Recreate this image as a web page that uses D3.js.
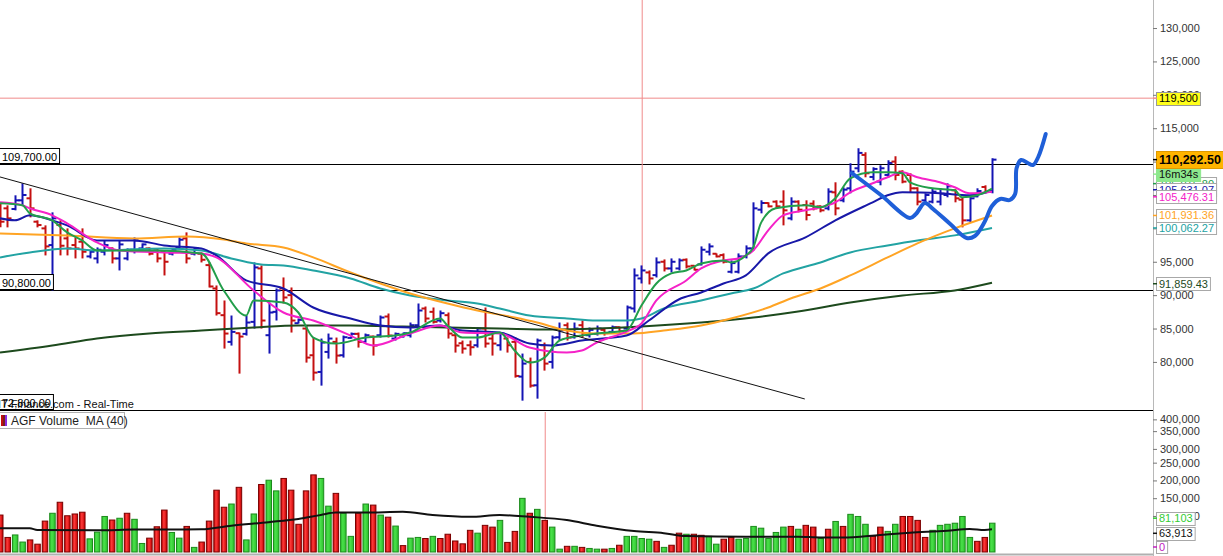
<!DOCTYPE html>
<html><head><meta charset="utf-8">
<script src="https://cdn.jsdelivr.net/npm/d3@7"></script>
<style>
html,body{margin:0;padding:0;background:#fff;}
svg{display:block;font-family:"Liberation Sans",Arial,sans-serif;}
</style></head><body>
<svg id="c" width="1223" height="556"></svg>
<script>
// ---------------- DATA ----------------
const open = [103000,103000,102900,104200,104500,101000,100000,97500,100500,98500,
 97500,98000,95800,95500,96500,97000,95500,95500,96800,97000,
 97000,96700,96500,96200,97200,98500,96200,96200,94500,91000,
 87000,83000,84300,84200,86000,94000,84000,87500,91000,90000,
 85800,85000,81000,78500,81500,83000,81000,83600,84200,83000,
 83800,84000,86800,83500,83800,84000,85500,88000,87500,86200,
 87000,84000,82800,82500,82500,85000,83500,82500,83500,83000,
 77800,80000,76500,82500,80000,83700,85500,83700,85500,84000,
 84200,84800,84500,85200,85000,88000,92500,93400,93000,95000,
 94000,94000,95300,94400,94600,96500,96200,96000,93500,93500,
 95800,97000,102800,103800,104000,104000,101500,104000,103500,103700,
 103300,103000,105400,104200,106000,109000,111000,107700,107000,108000,
 110000,108500,108000,106000,104200,104000,104000,105000,105700,104300,
 101200,104800,106200,105500];
const high = [103750,103450,104950,106750,106000,101200,100450,102400,101200,100000,
 98650,100000,96700,97150,98200,97150,98200,97000,98650,97750,
 97150,97000,96700,97000,98650,99400,97150,96400,94900,91450,
 89200,86950,84400,86950,94900,94450,88900,91000,92650,91150,
 86500,85450,83650,83500,84250,83650,83950,84400,84400,84250,
 83950,86950,87250,84400,84400,85900,88750,88300,88150,87700,
 87400,84250,83200,83200,85150,88150,84400,84400,83650,83650,
 81250,80650,83500,82900,83950,85900,85900,85900,86200,85150,
 85450,85000,85450,85300,88450,94000,94450,93700,95650,95350,
 95500,95500,95500,94450,97300,97750,96250,96250,95200,96250,
 97450,103900,104200,103900,104200,105700,104650,104200,104200,104200,
 103450,106000,106900,106150,109750,112000,111400,109150,109450,110200,
 110800,108700,108250,106150,105250,106000,106000,106750,105850,104650,
 104950,106000,106450,110500];
const low = [100150,100150,102700,103450,101650,100150,95950,90700,95950,95950,
 95500,95500,95500,94750,95950,94750,93700,95200,96250,96700,
 95950,94900,92950,95950,97000,94750,95950,94900,91150,86950,
 82000,82450,78250,83950,85000,85000,81250,86200,88750,84400,
 85750,79900,77200,76450,80500,79750,80650,83500,82150,82900,
 80950,83650,83650,83200,83650,83650,85150,85900,85750,85900,
 83500,81400,81250,80950,82150,82150,80950,81700,81400,77650,
 74200,76150,74500,78700,79000,83200,83200,83500,83650,83650,
 83950,83950,84400,84400,84700,87400,91750,91600,92650,93550,
 93400,93700,94000,93700,94450,95950,95650,94750,93250,93250,
 95500,96700,102250,103150,103000,100450,101200,102400,101200,102700,
 102400,102700,101950,103900,105250,108400,107650,107200,106450,107650,
 107200,106750,105400,103450,103900,103750,103450,104650,103900,100150,
 100900,104650,105250,105250];
const close = [101000,101500,104200,105000,103000,100500,97300,101500,97400,97000,
 97000,96500,96500,96800,97500,95500,97600,96800,98200,97600,
 96200,95500,95000,96800,98300,95500,97000,95300,91300,87300,
 84250,84500,83800,85900,94150,86200,87400,90700,89650,86200,
 86300,80650,78400,82900,83500,80950,83700,84200,83000,84000,
 82450,86650,83950,84200,84300,85500,87700,86500,86000,87300,
 84250,82450,82000,82200,85000,82750,82750,84250,82500,77900,
 79750,76450,83200,79750,83650,84700,83650,85000,84300,84800,
 85000,84300,85200,84600,88150,92950,93700,92500,94900,94000,
 95000,95200,94300,93800,96800,97300,95800,95000,94800,95800,
 97000,103000,103800,103300,103300,102700,104000,102800,102000,103000,
 102700,105500,103000,105800,108500,111300,108250,108900,109000,109800,
 108000,107000,106000,104000,105000,105500,105200,106300,104500,101200,
 104500,105600,105500,110292.5];

const volume = [104000,41000,48000,28000,34000,22000,87000,109000,140000,102000,
 107000,112000,37000,56000,100000,90000,95000,109000,92000,24000,
 39000,71000,118000,55000,39000,72000,13000,28000,87000,174000,
 126000,135000,182000,34000,107000,190000,202000,172000,207000,174000,
 78000,172000,217000,207000,129000,165000,109000,44000,109000,135000,
 132000,104000,98000,73000,18000,39000,41000,38000,44000,38000,
 50000,31000,23000,61000,53000,75000,70000,89000,27000,58000,
 151000,109000,120000,89000,70000,8000,16000,16000,13000,10000,
 8000,8000,10000,19000,44000,44000,38000,36000,30000,13000,
 19000,53000,50000,50000,47000,44000,22000,36000,41000,36000,
 38000,72000,67000,38000,55000,70000,72000,64000,75000,70000,
 38000,64000,86000,72000,106000,100000,78000,44000,70000,58000,
 78000,100000,100000,89000,41000,61000,75000,78000,81000,100000,
 41000,30000,41000,81103];
// g = rising volume bar, r = falling volume bar
const volumeDir = ("rrggrrrgrrrrgggrgrggrrrggrgrrrrgrggrggrrrrrggrggrgrgrg" +
 "rggrgrrrrrgrrgrrgrgrggrgrggrgrggggrgrrgrrggrrgggggggrgrrgrgrgggrrggrrrrggggggrrggrg").split("");

const volumeMA40 = [[0,66700],[4,66700],[5,62000],[13,61000],[18,63000],[27,64000],[31,74000],
 [36,84000],[40,93000],[43,104000],[45,111000],[49,111000],[54,113000],[58,104000],[63,99000],
 [67,104000],[71,99000],[76,90000],[80,74000],[85,59000],[89,53000],[92,45000],[100,43000],
 [107,43000],[110,41000],[113,41000],[118,48000],[122,54000],[127,60000],[130,65000],[132,62000],[133,63913]];

const maGreen = [[0,103750],[3,103450],[4,102250],[7,101200],[9,99400],[11,98200],[13,96700],[16,96700],
 [21,96700],[27,96250],[30,90700],[33,86950],[34,89200],[38,88900],[40,87400],[42,83650],[45,82750],
 [49,83650],[53,83950],[55,84400],[59,86500],[60,85450],[62,83650],[64,83650],[67,84400],[69,81700],
 [71,79900],[73,80650],[75,83200],[78,83950],[80,84250],[84,84700],[86,88450],[88,91750],[90,93250],
 [92,93700],[94,94750],[97,95200],[98,94900],[100,95950],[101,97150],[102,100750],[104,103000],
 [108,103450],[110,103150],[112,104500],[114,107500],[117,108400],[119,108400],[121,108250],
 [122,106900],[125,106000],[128,105700],[129,104650],[131,104950],[133,105950]];
const maMagenta = [[0,103900],[3,103450],[4,103000],[7,101950],[9,100750],[13,97900],[16,96700],
 [22,96400],[27,96250],[29,95650],[34,90700],[38,87400],[42,86200],[47,83950],[50,82450],[55,84250],
 [59,85450],[62,84400],[67,84250],[71,82150],[76,81400],[78,81700],[80,82900],[84,84550],[86,85750],
 [88,89200],[92,92200],[94,94000],[97,95200],[99,95500],[101,96700],[103,99700],[105,101950],
 [108,102700],[110,103150],[112,103900],[114,105400],[117,106750],[119,107650],[121,108400],
 [123,107650],[126,106900],[128,106150],[130,105250],[133,105476.31]];
const maBlue = [[0,101500],[2,101200],[4,101950],[7,101200],[9,100450],[13,98200],[18,98200],[22,97450],
 [27,97000],[29,95950],[33,92200],[38,91000],[42,88150],[47,86500],[51,85450],[55,85150],[59,85450],
 [62,84700],[67,84400],[71,82750],[74,82450],[78,83200],[84,83950],[87,86200],[91,89350],[94,90400],
 [97,91750],[100,92950],[103,96250],[108,98650],[112,101200],[117,103900],[119,104950],[121,105400],
 [126,105250],[130,104950],[133,105631.07]];
const maTeal = [[0,95650],[4,96400],[9,97000],[13,96700],[22,97000],[27,96700],[31,95500],[35,94600],
 [38,94450],[42,93700],[47,92500],[51,91000],[55,89950],[60,89200],[64,88750],[67,88000],[71,86950],
 [76,86500],[80,86200],[84,86200],[86,86500],[89,88000],[94,89200],[98,90250],[101,91000],[105,93250],
 [110,94900],[114,96400],[119,97450],[123,98200],[128,98950],[133,100062.27]];
const maOrange = [[0,99250],[9,98950],[18,98500],[25,98800],[30,98350],[33,97750],[38,97150],[42,95650],
 [47,93400],[51,91750],[55,90250],[60,88750],[64,87700],[69,86650],[72,85900],[76,84700],[80,84250],
 [85,84250],[89,84700],[94,85450],[98,86500],[103,88150],[106,89500],[110,91000],[114,92950],
 [119,95650],[123,97750],[128,100000],[133,101931.36]];
const maDarkGreen = [[0,81400],[7,82450],[13,83500],[20,84250],[27,84700],[34,85150],[40,85450],[47,85450],
 [54,85300],[60,85150],[67,85000],[74,84850],[80,85000],[86,85300],[94,85900],[101,86650],[107,87550],
 [114,88900],[121,89950],[128,90700],[133,91859.43]];

const priceTicks = [80000,85000,90000,95000,100000,105000,110000,115000,120000,125000,130000];
const volumeTicks = [100000,150000,200000,250000,300000,350000,400000];

const levelLines = [{v:109700,label:"109,700.00"},{v:90800,label:"90,800.00"},{v:72800,label:"72,800.00"}];
const resistanceLevel = 119500;
const trendline = [[0,107700],[107.9,74450]];
const sketchPath = [[114.2,108290],[118.1,104995],[122.0,101550],[122.8,102150],[124.0,103800],
 [125.1,102900],[127.4,100650],[129.6,98560],[130.7,98860],[132.0,100950],[133.0,103350],
 [134.1,104400],[135.4,104250],[136.1,105150],[136.3,109040],[136.9,110240],[137.8,109790],
 [138.5,109490],[139.2,110690],[140.2,114130]];
const cursorPriceIndex = 86.1;
const cursorVolumeIndex = 73.1;

// ---------------- DRAW ----------------
const W = 1223, H = 556, axisX = 1153, priceBottom = 410, volTop = 412, volBottom = 552;
const svg = d3.select("#c");
const x = d3.scaleLinear().domain([0, 133]).range([0, 992]);
const yP = d3.scaleLinear().domain([72800, 134200]).range([priceBottom, 0]);
const yV = d3.scaleLinear().domain([0, 394000]).range([volBottom, volTop]);

const C = {up:"#1414b4", down:"#c41010", green:"#229e4a", magenta:"#f522c8", blue:"#1818a8",
  teal:"#22a3a3", orange:"#ffa424", dkgreen:"#1d4a1d"};

svg.append("rect").attr("width", W).attr("height", H).attr("fill", "#fff");
const defs = svg.append("defs");
defs.append("clipPath").attr("id","cp").append("rect").attr("x",0).attr("y",0).attr("width",axisX).attr("height",priceBottom);
defs.append("clipPath").attr("id","cv").append("rect").attr("x",0).attr("y",volTop).attr("width",axisX).attr("height",volBottom-volTop+1);
const gr = defs.append("linearGradient").attr("id","gRed").attr("x1","0").attr("x2","1").attr("y1","0").attr("y2","0");
gr.append("stop").attr("offset","0%").attr("stop-color","#b80000");
gr.append("stop").attr("offset","40%").attr("stop-color","#ff3a3a");
gr.append("stop").attr("offset","100%").attr("stop-color","#c40000");
const gg = defs.append("linearGradient").attr("id","gGreen").attr("x1","0").attr("x2","1").attr("y1","0").attr("y2","0");
gg.append("stop").attr("offset","0%").attr("stop-color","#2fc42f");
gg.append("stop").attr("offset","40%").attr("stop-color","#4ae04a");
gg.append("stop").attr("offset","100%").attr("stop-color","#2cc02c");

// price panel
const pg = svg.append("g").attr("clip-path","url(#cp)");

pg.append("line").attr("x1",0).attr("x2",axisX).attr("y1",yP(resistanceLevel)).attr("y2",yP(resistanceLevel))
  .attr("stroke","#f08a8a").attr("stroke-width",1);
levelLines.forEach(l => {
  pg.append("line").attr("x1",0).attr("x2",axisX).attr("y1",Math.round(yP(l.v))+0.5).attr("y2",Math.round(yP(l.v))+0.5)
    .attr("stroke","#000").attr("stroke-width",1);
});
pg.append("line").attr("x1",x(cursorPriceIndex)).attr("x2",x(cursorPriceIndex)).attr("y1",0).attr("y2",priceBottom)
  .attr("stroke","#f08a8a").attr("stroke-width",1);

// OHLC bars
const bars = d3.range(open.length).map(i => ({i, o:open[i], h:high[i], l:low[i], c:close[i]}));
const bg = pg.append("g");
bars.forEach(d => {
  const col = d.c >= d.o ? C.up : C.down;
  const cx = Math.round(x(d.i)) + 0.5;
  bg.append("line").attr("x1",cx).attr("x2",cx).attr("y1",yP(d.h)).attr("y2",yP(d.l)).attr("stroke",col).attr("stroke-width",2);
  bg.append("line").attr("x1",cx-4).attr("x2",cx).attr("y1",yP(d.o)).attr("y2",yP(d.o)).attr("stroke",col).attr("stroke-width",2);
  bg.append("line").attr("x1",cx).attr("x2",cx+4).attr("y1",yP(d.c)).attr("y2",yP(d.c)).attr("stroke",col).attr("stroke-width",2);
});

// moving averages
const maLine = d3.line().x(d => x(d[0])).y(d => yP(d[1])).curve(d3.curveMonotoneX);
[[maDarkGreen,C.dkgreen],[maTeal,C.teal],[maOrange,C.orange],[maBlue,C.blue],[maMagenta,C.magenta],[maGreen,C.green]]
  .forEach(([data,col]) => {
    pg.append("path").attr("d", maLine(data)).attr("fill","none").attr("stroke",col).attr("stroke-width",2)
      .attr("stroke-linejoin","round");
  });

// trendline
pg.append("line").attr("x1",x(trendline[0][0])).attr("y1",yP(trendline[0][1]))
  .attr("x2",x(trendline[1][0])).attr("y2",yP(trendline[1][1])).attr("stroke","#111").attr("stroke-width",1);

// hand drawn projection
pg.append("path").attr("d", d3.line().x(d=>x(d[0])).y(d=>yP(d[1])).curve(d3.curveCatmullRom.alpha(0.5))(sketchPath))
  .attr("fill","none").attr("stroke","#1f5fd8").attr("stroke-width",4).attr("stroke-linecap","round").attr("stroke-linejoin","round");

// source text (under the level label, as in the original)
svg.append("text").attr("x",-2).attr("y",408).attr("font-size",11).attr("fill","#111").text("IT-Finance.com - Real-Time");

// level labels left
levelLines.forEach(l => {
  const yy = Math.round(yP(l.v));
  const t = svg.append("text").attr("x",2).attr("y",yy-3).attr("font-size",11).attr("fill","#000").text(l.label);
  const w = t.node().getComputedTextLength();
  svg.insert("rect", () => t.node()).attr("x",-1.5).attr("y",yy-15.5).attr("width",w+6).attr("height",15)
    .attr("fill", l.v === 72800 ? "none" : "#fff").attr("stroke","#000").attr("stroke-width",1);
});

// volume panel
const vg = svg.append("g").attr("clip-path","url(#cv)");
vg.append("line").attr("x1",x(cursorVolumeIndex)).attr("x2",x(cursorVolumeIndex)).attr("y1",volTop).attr("y2",volBottom)
  .attr("stroke","#f08a8a").attr("stroke-width",1);
volume.forEach((v,i) => {
  const up = volumeDir[i] === "g";
  vg.append("rect").attr("x", x(i)-2.5).attr("y", yV(v)).attr("width",5.5).attr("height", yV(0)-yV(v))
    .attr("fill", up ? "url(#gGreen)" : "url(#gRed)").attr("stroke", up ? "#1c8a1c" : "#7a0000").attr("stroke-width",1);
});
vg.append("path").attr("d", d3.line().x(d=>x(d[0])).y(d=>yV(d[1])).curve(d3.curveMonotoneX)(volumeMA40))
  .attr("fill","none").attr("stroke","#111").attr("stroke-width",2);

// panel separator lines
svg.append("line").attr("x1",0).attr("x2",axisX).attr("y1",priceBottom+0.5).attr("y2",priceBottom+0.5).attr("stroke","#000");
svg.append("line").attr("x1",0).attr("x2",axisX).attr("y1",H-1.5).attr("y2",H-1.5).attr("stroke","#b0b0b0").attr("stroke-width",2);
svg.append("line").attr("x1",axisX+0.5).attr("x2",axisX+0.5).attr("y1",0).attr("y2",H).attr("stroke","#b8b8b8");

// legend
const lg = svg.append("g");
lg.append("rect").attr("x",-0.5).attr("y",412.5).attr("width",125).attr("height",16).attr("fill","#fff").attr("stroke","#b0b0b0");
[["#c41010",1],["#7a1f1f",3],["#8a2be2",5]].forEach(([c,xx]) => {
  lg.append("rect").attr("x",xx).attr("y",415).attr("width",2).attr("height",11).attr("fill",c);
});
lg.append("text").attr("x",11).attr("y",425).attr("font-size",12).attr("fill","#222").attr("xml:space","preserve").text("AGF Volume  MA (40)");

// price axis
const pAxis = svg.append("g").attr("transform",`translate(${axisX},0)`)
  .call(d3.axisRight(yP).tickValues(priceTicks).tickSize(4).tickPadding(3).tickFormat(d3.format(",")));
pAxis.select(".domain").remove();
pAxis.selectAll("line").attr("stroke","#777");
pAxis.selectAll("text").attr("font-size",11).attr("fill","#333").attr("font-family","Liberation Sans, Arial, sans-serif");

// volume axis
const labelShift = {400000:10, 350000:4, 300000:4};
const vAxis = svg.append("g").attr("transform",`translate(${axisX},0)`)
  .call(d3.axisRight(yV).tickValues(volumeTicks).tickSize(4).tickPadding(3).tickFormat(d3.format(",")));
vAxis.select(".domain").remove();
vAxis.selectAll("line").attr("stroke","#777");
vAxis.selectAll("text").attr("font-size",11).attr("fill","#333").attr("font-family","Liberation Sans, Arial, sans-serif");
vAxis.selectAll(".tick").attr("transform", d => `translate(0,${yV(d) + (labelShift[d]||0)})`);

// value labels on the axis
function tag(yc, text, opt) {
  const g = svg.append("g");
  const t = g.append("text").attr("x", axisX+6).attr("y", yc).attr("dy","0.36em")
    .attr("font-size", opt.size||11).attr("font-weight", opt.bold?"bold":"normal").attr("fill", opt.color).text(text);
  const w = t.node().getComputedTextLength();
  const h = opt.h || 13;
  g.insert("rect", "text").attr("x", axisX+3.5).attr("y", Math.round(yc - h/2)+0.5).attr("width", opt.w || w+5).attr("height", h)
    .attr("fill", opt.bg||"#fff").attr("stroke", opt.border||"#a8a8a8");
  g.append("line").attr("x1",axisX).attr("x2",axisX+4).attr("y1",yc).attr("y2",yc).attr("stroke",opt.tick||opt.color).attr("stroke-width",1.5);
}
const lastPrice = close[close.length-1];
tag(yP(resistanceLevel), d3.format(",")(resistanceLevel), {color:"#000", bg:"#ffff1a", border:"#999", tick:"#f08a8a"});
tag(yP(maDarkGreen[maDarkGreen.length-1][1])+1, "91,859.43", {color:C.dkgreen});
tag(yP(maTeal[maTeal.length-1][1]), "100,062.27", {color:C.teal});
tag(yP(maOrange[maOrange.length-1][1]), "101,931.36", {color:C.orange});
tag(yP(maGreen[maGreen.length-1][1])-5, "105,915.80", {color:C.green});
tag(yP(maBlue[maBlue.length-1][1])-1, "105,631.07", {color:C.blue});
tag(yP(maMagenta[maMagenta.length-1][1])+5, "105,476.31", {color:C.magenta});
tag(yP(lastPrice)+14.5, "16m34s", {color:"#111", bg:"#8de88d", border:"#8de88d", tick:"#8de88d"});
tag(yP(lastPrice), d3.format(",.2f")(lastPrice), {color:"#000", bg:"#ffb400", border:"#e09a00", bold:true, size:12.5, h:17, w:72, tick:"#000"});

const lastVol = volume[volume.length-1];
const lastVolMA = volumeMA40[volumeMA40.length-1][1];
tag(yV(lastVol)-5, d3.format(",")(lastVol), {color:"#33cc33", tick:"#33cc33"});
tag(yV(lastVolMA)+4, d3.format(",")(lastVolMA), {color:"#111"});
tag(yV(0)-5, "0", {color:"#c020c0", h:12});
</script></body></html>
